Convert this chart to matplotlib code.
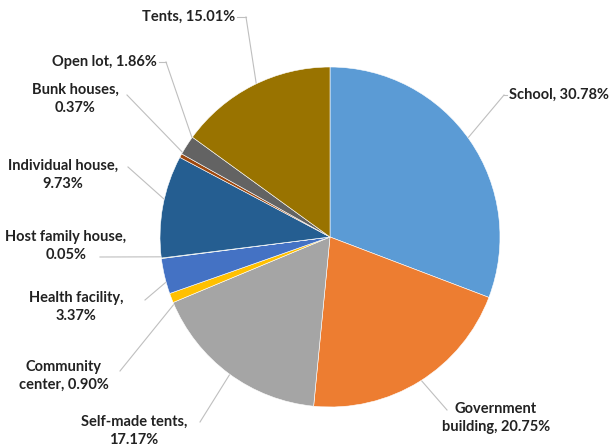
import numpy as np
import matplotlib.pyplot as plt

labels = ["School", "Government\nbuilding", "Self-made tents,\n", "Community\ncenter",
          "Health facility,\n", "Host family house,\n", "Individual house,\n",
          "Bunk houses,\n", "Open lot", "Tents"]
values = [30.78, 20.75, 17.17, 0.90, 3.37, 0.05, 9.73, 0.37, 1.86, 15.01]
colors = ["#5B9BD5", "#ED7D31", "#A5A5A5", "#FFC000", "#4472C4", "#70AD47",
          "#255E91", "#9E480E", "#636363", "#997300"]

# label layout in pixel space (x, y from top), alignment, leader elbow
layout = [
    ((509, 95), "left", (504, 95)),
    ((496, 418), "center", (447, 410)),
    ((134, 431), "center", (200, 422)),
    ((64, 376), "center", (120, 371)),
    ((76, 307), "center", (145, 300)),
    ((66, 246), "center", (100, 257)),
    ((63, 175), "center", (128, 167)),
    ((75, 99), "center", (127, 95)),
    ((157, 62), "right", (166, 62)),
    ((235, 17), "right", (246, 17)),
]

W, H = 614, 448
cx, cy, r = 330, H - 237, 170

fig = plt.figure(figsize=(W / 100, H / 100), dpi=100)
ax = fig.add_axes([0, 0, 1, 1])

wedges, _ = ax.pie(values, colors=colors, startangle=90, counterclock=False,
                   center=(cx, cy), radius=r,
                   wedgeprops=dict(edgecolor="white", linewidth=0.4))
ax.set_xlim(0, W)
ax.set_ylim(0, H)
ax.set_aspect("equal")
ax.axis("off")

for w, lab, val, (pos, ha, elbow) in zip(wedges, labels, values, layout):
    mid = np.deg2rad((w.theta1 + w.theta2) / 2)
    px, py = cx + r * 0.93 * np.cos(mid), cy + r * 0.93 * np.sin(mid)
    ex, ey = elbow[0], H - elbow[1]
    if lab.endswith("\n"):
        txt = lab + f"{val:.2f}%"
    elif "\n" in lab:
        txt = lab + f", {val:.2f}%"
    else:
        txt = f"{lab}, {val:.2f}%"
    ax.text(pos[0], H - pos[1], txt, ha=ha, va="center", fontsize=10.5,
            fontweight="bold", family="Lato", color="#222222", linespacing=1.4)
    ax.plot([ex, px], [ey, py], color="#BFBFBF", lw=0.8, zorder=0)
    if ha in ("left", "right"):
        ax.plot([pos[0] + (-2 if ha == "left" else 2), ex], [ey, ey],
                color="#BFBFBF", lw=0.8, zorder=0)

fig.savefig("out.png", dpi=100)
